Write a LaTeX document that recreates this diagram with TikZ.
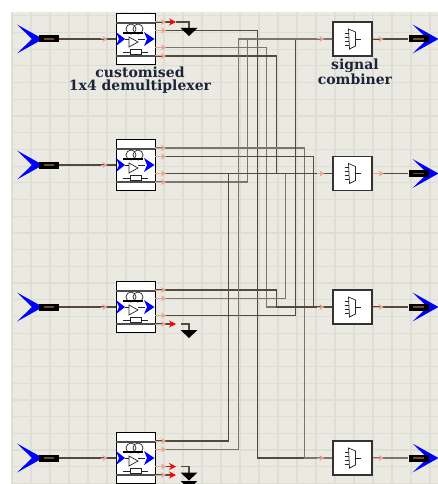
\documentclass[tikz,border=0pt]{standalone}
\usepackage{fontspec}
\newfontfamily\labelfont{DejaVu Serif}
\usepackage{xcolor}
\usepackage{tikz}
\usetikzlibrary{arrows.meta, backgrounds}
\definecolor{sheet}{HTML}{EAEAE2}
\definecolor{gridcol}{HTML}{DEDED5}
\definecolor{wirecol}{HTML}{55493A}
\definecolor{wiregrey}{HTML}{7E7568}
\definecolor{stubcol}{HTML}{E8A393}
\definecolor{textcol}{HTML}{1C2438}
\tikzstyle{demux} = [rectangle, 
minimum width=39pt, 
minimum height=51pt, 
inner sep=0pt, 
draw=black, 
line width=1pt, 
fill=white]
\tikzstyle{combiner} = [rectangle, 
minimum width=39pt, 
minimum height=34pt, 
inner sep=0pt, 
draw=black!80, 
line width=1.2pt, 
fill=white]
\tikzstyle{conn} = [rectangle, 
minimum width=20pt, 
minimum height=7pt, 
inner sep=0pt, 
fill=black]
\tikzstyle{comptext} = [align=center, 
text=textcol, 
font=\labelfont\bfseries\fontsize{14}{13.5}\selectfont]
\tikzstyle{wire} = [draw=wirecol, line width=1.2pt]
\tikzstyle{greywire} = [draw=wiregrey, line width=1.5pt]
\tikzstyle{stub} = [draw=stubcol, line width=1pt, ->, >={Stealth[length=5pt,width=6pt]}]
\tikzstyle{redtip} = [wire, -{Stealth[red,length=7pt,width=7pt]}]
\tikzstyle{icon} = [draw=black!85, line width=0.7pt]
\newcommand{\demuxicon}[1]{%
\begin{scope}[shift={(#1.center)}]
\draw [draw=black!70, line width=1.2pt] (-19.5,-16) -- (19.5,-16);
\draw [draw=black!70, line width=1.2pt] (-19.5,17) -- (19.5,17);
\draw [icon] (-4.5,-10) circle (5);
\draw [icon] (2.5,-10) circle (5);
\draw [draw=black, line width=1.3pt] (-12.5,-6) -- (7.5,-6);
\draw [icon] (-6.5,-2) -- (-6.5,8) -- (2.5,3) -- cycle;
\draw [icon] (-10.5,0) -- (-6.5,0);
\draw [icon] (2.5,0) -- (9.5,0);
\draw [icon] (-12.5,13) -- (12.5,13);
\draw [icon, fill=white] (-5.5,10.5) rectangle (5.5,15.5);
\fill [blue] (-19.5,-7) -- (-10.5,0) -- (-19.5,7) -- (-16.5,0) -- cycle;
\fill [blue] (8.5,-7) -- (19,0) -- (8.5,7) -- (11.5,0) -- cycle;
\end{scope}}
\newcommand{\combicon}[1]{%
\begin{scope}[shift={(#1.center)}]
\draw [icon] (-4,-10) -- (3,-7) -- (3,7) -- (-3,10) -- cycle;
\draw [icon] (-8,-6) -- (-4,-6);
\draw [icon] (-8,-2) -- (-4,-2);
\draw [icon] (-8,2) -- (-4,2);
\draw [icon] (-8,6) -- (-4,6);
\draw [icon] (3,0) -- (8,0);
\end{scope}}
\newcommand{\chevron}[2]{%
\begin{pgfonlayer}{background}
\fill [blue, shift={(#1.center)}, xshift=#2] (-32,-14.5) -- (-6,0) -- (-32,14.5) -- (-17,0) -- cycle;
\end{pgfonlayer}
\draw [draw=brown!60!black, line width=1.2pt] ([xshift=5pt]#1.west) -- ([xshift=-5pt]#1.east);}
\newcommand{\groundmark}[1]{%
\fill [black] ([xshift=-8.5pt]#1) -- ([xshift=8.5pt]#1) -- ([yshift=-8pt]#1) -- cycle;}

\begin{document}
\begin{tikzpicture}[x=1pt, y=-1pt, node distance=126pt]
\useasboundingbox (0,0) rectangle (438,484);

\begin{pgfonlayer}{background}
\fill [white] (0,0) rectangle (438,484);
\fill [sheet] (11,12) rectangle (438,484);
\draw [draw=gridcol, line width=1.2pt, shift={(12,15.8)}, xstep=19pt, ystep=16.7pt] (-1,-3.8) grid (426,468.2);
\end{pgfonlayer}

\node (dem1) [demux] at (135.5,39) {};
\node (dem2) [demux, below of=dem1] {};
\node (dem3) [demux, below of=dem2, yshift=-16pt] {};
\node (dem4) [demux, below of=dem3, yshift=-25pt] {};

\node (cmb1) [combiner, right of=dem1, xshift=91pt] {};
\node (cmb2) [combiner, right of=dem2, xshift=91pt, yshift=-8.5pt] {};
\node (cmb3) [combiner, right of=dem3, xshift=91pt] {};
\node (cmb4) [combiner, right of=dem4, xshift=91pt] {};

\node (src1) [conn, left of=dem1, xshift=39.5pt] {};
\node (src2) [conn, left of=dem2, xshift=39.5pt] {};
\node (src3) [conn, left of=dem3, xshift=39.5pt] {};
\node (src4) [conn, left of=dem4, xshift=39.5pt] {};

\node (out1) [conn, right of=cmb1, xshift=-60pt] {};
\node (out2) [conn, right of=cmb2, xshift=-60pt] {};
\node (out3) [conn, right of=cmb3, xshift=-60pt] {};
\node (out4) [conn, right of=cmb4, xshift=-60pt] {};

\node (demtext) [comptext, below of=dem1, xshift=4.5pt, yshift=85pt] {customised\\1x4 demultiplexer};
\node (cmbtext) [comptext, below of=cmb1, xshift=2.5pt, yshift=93.5pt] {signal\\combiner};

\coordinate (dem1a) at ([shift={(19.5,-17)}]dem1.center);
\coordinate (dem1b) at ([shift={(19.5,-8.5)}]dem1.center);
\coordinate (dem1c) at ([shift={(19.5,8.5)}]dem1.center);
\coordinate (dem1d) at ([shift={(19.5,17)}]dem1.center);
\coordinate (dem2a) at ([shift={(19.5,-17)}]dem2.center);
\coordinate (dem2b) at ([shift={(19.5,-8.5)}]dem2.center);
\coordinate (dem2c) at ([shift={(19.5,8.5)}]dem2.center);
\coordinate (dem2d) at ([shift={(19.5,17)}]dem2.center);
\coordinate (dem3a) at ([shift={(19.5,-17)}]dem3.center);
\coordinate (dem3b) at ([shift={(19.5,-8.5)}]dem3.center);
\coordinate (dem3c) at ([shift={(19.5,8.5)}]dem3.center);
\coordinate (dem3d) at ([shift={(19.5,17)}]dem3.center);
\coordinate (dem4a) at ([shift={(19.5,-17)}]dem4.center);
\coordinate (dem4b) at ([shift={(19.5,-8.5)}]dem4.center);
\coordinate (dem4c) at ([shift={(19.5,8.5)}]dem4.center);
\coordinate (dem4d) at ([shift={(19.5,17)}]dem4.center);

\coordinate (gnd1) at ([shift={(34,6)}]dem1a);
\coordinate (gnd3) at ([shift={(34,6)}]dem3d);
\coordinate (gnd4) at ([shift={(34,6)}]dem4c);
\coordinate (gnd5) at ([shift={(34,6)}]dem4d);

% icons
\demuxicon{dem1}
\demuxicon{dem2}
\demuxicon{dem3}
\demuxicon{dem4}
\combicon{cmb1}
\combicon{cmb2}
\combicon{cmb3}
\combicon{cmb4}
\chevron{src1}{0pt}
\chevron{src2}{0pt}
\chevron{src3}{0pt}
\chevron{src4}{0pt}
\chevron{out1}{26pt}
\chevron{out2}{26pt}
\chevron{out3}{26pt}
\chevron{out4}{26pt}

% sources and outputs
\draw [wire] (src1) -- (dem1);
\draw [wire] (src2) -- (dem2);
\draw [wire] (src3) -- (dem3);
\draw [wire] (src4) -- (dem4);
\draw [wire] (cmb1) -- (out1);
\draw [wire] (cmb2) -- (out2);
\draw [wire] (cmb3) -- (out3);
\draw [greywire] (cmb4) -- (out4);

% crossing wires
\draw [wire] (dem1b) -| ([xshift=-75pt]cmb4.west) -- (cmb4.west);
\draw [greywire] (dem1c) -| ([xshift=-66pt]cmb3.west) -- (cmb3.west);
\draw [wire] (dem1d) -| ([xshift=-56pt]cmb2.west) -- (cmb2.west);
\draw [greywire] (dem2a) -| ([xshift=-28pt]cmb4.west) -- (cmb4.west);
\draw [wire] (dem2b) -| ([xshift=-19pt]cmb3.west) -- (cmb3.west);
\draw [wire] (dem2c) -- (cmb2.west);
\draw [greywire] (dem2d) -| ([xshift=-85pt]cmb1.west) -- (cmb1.west);
\draw [wire] (dem3a) -| ([xshift=-56pt]cmb3.west) -- (cmb3.west);
\draw [greywire] (dem3b) -| ([xshift=-47pt]cmb2.west) -- (cmb2.west);
\draw [wire] (dem3c) -| ([xshift=-37pt]cmb1.west) -- (cmb1.west);
\draw [wire] (dem4a) -| ([xshift=-104pt]cmb2.west) -- (cmb2.west);
\draw [greywire] (dem4b) -| ([xshift=-94pt]cmb1.west) -- (cmb1.west);

% grounded ports
\draw [redtip] (dem1a) -- ++(21,0);
\draw [redtip] (dem3d) -- ++(21,0);
\draw [redtip] (dem4c) -- ++(21,0);
\draw [redtip] (dem4d) -- ++(21,0);
\draw [wire] ([xshift=21pt]dem1a) -| (gnd1);
\draw [wire] ([xshift=26pt]dem3d) -| (gnd3);
\draw [wire] ([xshift=26pt]dem4c) -| (gnd4);
\groundmark{gnd1}
\groundmark{gnd3}
\groundmark{gnd4}
\groundmark{gnd5}

% pink port marks
\draw [stub] (dem1a) -- ++(11,0);
\draw [stub] (dem1b) -- ++(11,0);
\draw [stub] (dem1c) -- ++(11,0);
\draw [stub] (dem1d) -- ++(11,0);
\draw [stub] (dem2a) -- ++(11,0);
\draw [stub] (dem2b) -- ++(11,0);
\draw [stub] (dem2c) -- ++(11,0);
\draw [stub] (dem2d) -- ++(11,0);
\draw [stub] (dem3a) -- ++(11,0);
\draw [stub] (dem3b) -- ++(11,0);
\draw [stub] (dem3c) -- ++(11,0);
\draw [stub] (dem3d) -- ++(11,0);
\draw [stub] (dem4a) -- ++(11,0);
\draw [stub] (dem4b) -- ++(11,0);
\draw [stub] (dem4c) -- ++(11,0);
\draw [stub] (dem4d) -- ++(11,0);
\draw [stub] ([xshift=-15pt]dem1.west) -- ++(7,0);
\draw [stub] ([xshift=-15pt]dem2.west) -- ++(7,0);
\draw [stub] ([xshift=-15pt]dem3.west) -- ++(7,0);
\draw [stub] ([xshift=-15pt]dem4.west) -- ++(7,0);
\draw [stub] ([xshift=-15pt]cmb1.west) -- ++(7,0);
\draw [stub] ([xshift=-15pt]cmb2.west) -- ++(7,0);
\draw [stub] ([xshift=-15pt]cmb3.west) -- ++(7,0);
\draw [stub] ([xshift=-15pt]cmb4.west) -- ++(7,0);
\draw [stub] (cmb1.east) -- ++(11,0);
\draw [stub] (cmb2.east) -- ++(11,0);
\draw [stub] (cmb3.east) -- ++(11,0);
\draw [stub] (cmb4.east) -- ++(11,0);

\end{tikzpicture}
\end{document}
